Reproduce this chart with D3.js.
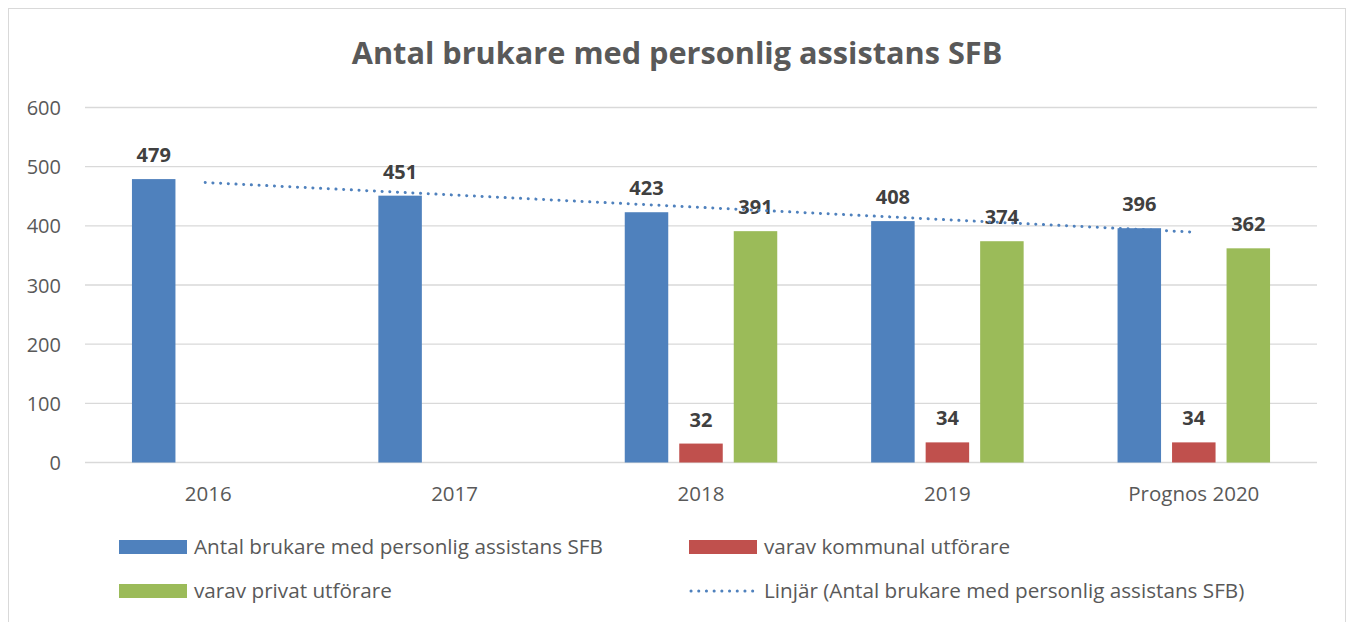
<!DOCTYPE html>
<html>
<head>
<meta charset="utf-8">
<script src="https://cdn.jsdelivr.net/npm/d3@7"></script>
<style>
  body { margin: 0; background: #fff; }
  text { font-family: "Open Sans", Lato, sans-serif; }
</style>
</head>
<body>
<div id="chart"></div>
<script>
// data
const categories = ['2016', '2017', '2018', '2019', 'Prognos 2020'];
const seriesNames = ['Antal brukare med personlig assistans SFB', 'varav kommunal utförare', 'varav privat utförare'];
const totalValues = [479, 451, 423, 408, 396];
const kommunalValues = [null, null, 32, 34, 34];
const privatValues = [null, null, 391, 374, 362];
const yTicks = [0, 100, 200, 300, 400, 500, 600];
const colors = ['#4f81bd', '#c0504d', '#9bbb59'];
const trendLabel = 'Linjär (Antal brukare med personlig assistans SFB)';

const W = 1350, H = 622;
const svg = d3.select('#chart').append('svg')
  .attr('width', W)
  .attr('height', H);

// outer chart border
svg.append('rect')
  .attr('x', 8.5).attr('y', 8.5)
  .attr('width', 1337).attr('height', 640)
  .attr('fill', '#fff')
  .attr('stroke', '#d9d9d9');

svg.append('text')
  .attr('x', 677).attr('y', 64)
  .attr('text-anchor', 'middle')
  .attr('font-size', 30.7)
  .attr('font-weight', 'bold')
  .attr('fill', '#595959')
  .text('Antal brukare med personlig assistans SFB');

const plotLeft = 85, plotRight = 1317, plotTop = 107.5, plotBottom = 462.5;

const x = d3.scaleBand().domain(categories).range([plotLeft, plotRight]);
const y = d3.scaleLinear().domain([0, 600]).range([plotBottom, plotTop]);

// gridlines
svg.append('g')
  .selectAll('line')
  .data(yTicks)
  .join('line')
  .attr('x1', plotLeft).attr('x2', plotRight)
  .attr('y1', d => y(d)).attr('y2', d => y(d))
  .attr('stroke', '#d9d9d9')
  .attr('stroke-width', 1.3);

// y labels
svg.append('g')
  .selectAll('text')
  .data(yTicks)
  .join('text')
  .attr('x', 61)
  .attr('y', d => y(d) + 7.5)
  .attr('text-anchor', 'end')
  .attr('font-size', 20)
  .attr('fill', '#595959')
  .text(d => d);

// x labels
svg.append('g')
  .selectAll('text')
  .data(categories)
  .join('text')
  .attr('x', d => x(d) + x.bandwidth() / 2)
  .attr('y', 501)
  .attr('text-anchor', 'middle')
  .attr('font-size', 20.5)
  .attr('fill', '#595959')
  .text(d => d);

// bars, grouped by series
const barW = 43.5, gap = 11;
const groupW = 3 * barW + 2 * gap;
const series = [totalValues, kommunalValues, privatValues];

const rows = [];
series.forEach((vals, s) => {
  vals.forEach((v, i) => {
    if (v != null) rows.push({ s: s, cat: categories[i], v: v });
  });
});

const barX = d => x(d.cat) + x.bandwidth() / 2 - groupW / 2 + d.s * (barW + gap);

svg.append('g')
  .selectAll('rect')
  .data(rows)
  .join('rect')
  .attr('x', barX)
  .attr('y', d => y(d.v))
  .attr('width', barW)
  .attr('height', d => plotBottom - y(d.v))
  .attr('fill', d => colors[d.s]);

svg.append('g')
  .selectAll('text')
  .data(rows)
  .join('text')
  .attr('x', d => barX(d) + barW / 2)
  .attr('y', d => y(d.v) - 17)
  .attr('text-anchor', 'middle')
  .attr('font-size', 20)
  .attr('font-weight', 'bold')
  .attr('fill', '#404040')
  .text(d => d.v);

// linear trendline for the first series
const xs = totalValues.map((d, i) => i + 1);
const mx = d3.mean(xs), my = d3.mean(totalValues);
const slope = d3.sum(xs, (xi, i) => (xi - mx) * (totalValues[i] - my)) / d3.sum(xs, xi => (xi - mx) * (xi - mx));
const trend = categories.map((c, i) => ({ cat: c, v: my + slope * (xs[i] - mx) }));

const dotted = sel => sel
  .attr('fill', 'none')
  .attr('stroke', '#4f81bd')
  .attr('stroke-width', 3)
  .attr('stroke-linecap', 'round')
  .attr('stroke-dasharray', '0.1 7.6');

svg.append('path')
  .datum(trend)
  .attr('d', d3.line().x(d => x(d.cat) + x.bandwidth() / 2 - 3).y(d => y(d.v)))
  .call(dotted);

// legend
const legend = [
  { label: seriesNames[0], x: 119, y: 547, kind: 0 },
  { label: seriesNames[1], x: 689, y: 547, kind: 1 },
  { label: seriesNames[2], x: 119, y: 591, kind: 2 },
  { label: trendLabel, x: 689, y: 591, kind: 'trend' }
];

const lg = svg.append('g')
  .selectAll('g')
  .data(legend)
  .join('g')
  .attr('transform', d => `translate(${d.x},${d.y})`);

lg.filter(d => d.kind !== 'trend')
  .append('rect')
  .attr('x', 0).attr('y', -7)
  .attr('width', 68).attr('height', 14)
  .attr('fill', d => colors[d.kind]);

lg.filter(d => d.kind === 'trend')
  .append('line')
  .attr('x1', 2).attr('x2', 66)
  .attr('y1', 0).attr('y2', 0)
  .call(dotted);

lg.append('text')
  .attr('x', 75)
  .attr('y', 7)
  .attr('font-size', 20.7)
  .attr('fill', '#595959')
  .text(d => d.label);
</script>
</body>
</html>
